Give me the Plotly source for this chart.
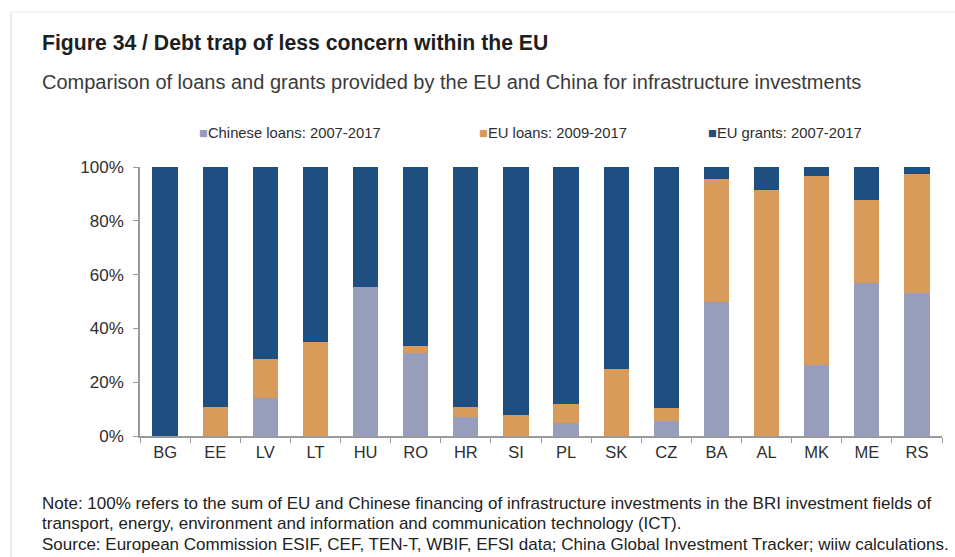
import plotly.graph_objects as go

countries = ["BG", "EE", "LV", "LT", "HU", "RO", "HR", "SI", "PL", "SK", "CZ", "BA", "AL", "MK", "ME", "RS"]
chinese_loans = [0, 0, 14.2, 0, 55.3, 31.0, 7.0, 0, 4.8, 0, 5.6, 49.7, 0, 26.5, 56.9, 53.2]
eu_loans = [0, 10.8, 14.4, 35.0, 0, 2.6, 3.9, 7.9, 7.2, 24.8, 4.9, 45.8, 91.3, 70.0, 31.0, 44.1]
eu_grants = [round(100 - a - b, 1) for a, b in zip(chinese_loans, eu_loans)]
series_names = ["Chinese loans: 2007-2017", "EU loans: 2009-2017", "EU grants: 2007-2017"]
y_ticks = [0, 20, 40, 60, 80, 100]
y_tick_labels = ["0%", "20%", "40%", "60%", "80%", "100%"]

title_text = "Figure 34 / Debt trap of less concern within the EU"
subtitle_text = "Comparison of loans and grants provided by the EU and China for infrastructure investments"
note_lines = [
    "Note: 100% refers to the sum of EU and Chinese financing of infrastructure investments in the BRI investment fields of",
    "transport, energy, environment and information and communication technology (ICT).",
    "Source: European Commission ESIF, CEF, TEN-T, WBIF, EFSI data; China Global Investment Tracker; wiiw calculations.",
]

C_GREY = "#979ebc"
C_ORANGE = "#d89b59"
C_BLUE = "#1f4e80"
colors = [C_GREY, C_ORANGE, C_BLUE]

W, H = 955, 557
L, R, T, B = 140, 13, 167, 121
PW, PH = W - L - R, H - T - B
FONT = "Liberation Sans, Arial, sans-serif"


def xp(px):
    return (px - L) / PW


def yp(py):
    return (H - B - py) / PH


fig = go.Figure()
for name, vals, col in zip(series_names, [chinese_loans, eu_loans, eu_grants], colors):
    fig.add_trace(go.Bar(x=countries, y=vals, name=name, marker=dict(color=col, line=dict(width=0)),
                         showlegend=False))

annotations = [
    dict(text="<b>" + title_text + "</b>", x=xp(40), y=yp(43), xanchor="left", yanchor="middle",
         font=dict(size=21.2, color="#1e1e1e", family=FONT)),
    dict(text=subtitle_text, x=xp(40), y=yp(82), xanchor="left", yanchor="middle",
         font=dict(size=20, color="#3a3a3a", family=FONT)),
]
legend_x = [197, 477, 706]
for lx, name, col in zip(legend_x, series_names, colors):
    annotations.append(dict(text=f"<span style='color:{col}'>■</span>" + name, x=xp(lx), y=yp(133),
                            xanchor="left", yanchor="middle",
                            font=dict(size=14.8, color="#2e2e2e", family=FONT)))
for i, line in enumerate(note_lines):
    annotations.append(dict(text=line, x=xp(40), y=yp(503 + 20.5 * i), xanchor="left", yanchor="middle",
                            font=dict(size=17, color="#222222", family=FONT)))
for a in annotations:
    a.update(xref="paper", yref="paper", showarrow=False)

fig.update_layout(
    width=W, height=H,
    margin=dict(l=L, r=R, t=T, b=B, pad=0),
    barmode="stack",
    bargap=0.495,
    paper_bgcolor="white",
    plot_bgcolor="white",
    font=dict(family=FONT, color="#333333"),
    annotations=annotations,
    xaxis=dict(
        type="category", showgrid=False, showline=True, linecolor="#9a9a9a", linewidth=1.5,
        ticks="outside", tickson="boundaries", ticklen=5, tickcolor="#9a9a9a",
        tickfont=dict(size=16.5, color="#2e2e2e", family=FONT), zeroline=False,
    ),
    yaxis=dict(
        range=[0, 100], tickvals=y_ticks, ticktext=y_tick_labels, showgrid=False, showline=True,
        linecolor="#9a9a9a", linewidth=1.5, ticks="outside", ticklen=5, tickcolor="#9a9a9a",
        tickfont=dict(size=17, color="#2e2e2e", family=FONT), zeroline=False, ticklabelstandoff=6,
    ),
    shapes=[
        dict(type="line", xref="paper", yref="paper", x0=xp(11), x1=xp(11), y0=yp(12), y1=yp(557),
             line=dict(color="#e2e2e2", width=1.5)),
        dict(type="line", xref="paper", yref="paper", x0=xp(11), x1=xp(955), y0=yp(12), y1=yp(12),
             line=dict(color="#ececec", width=1)),
    ],
)

fig.write_html("out.html")
